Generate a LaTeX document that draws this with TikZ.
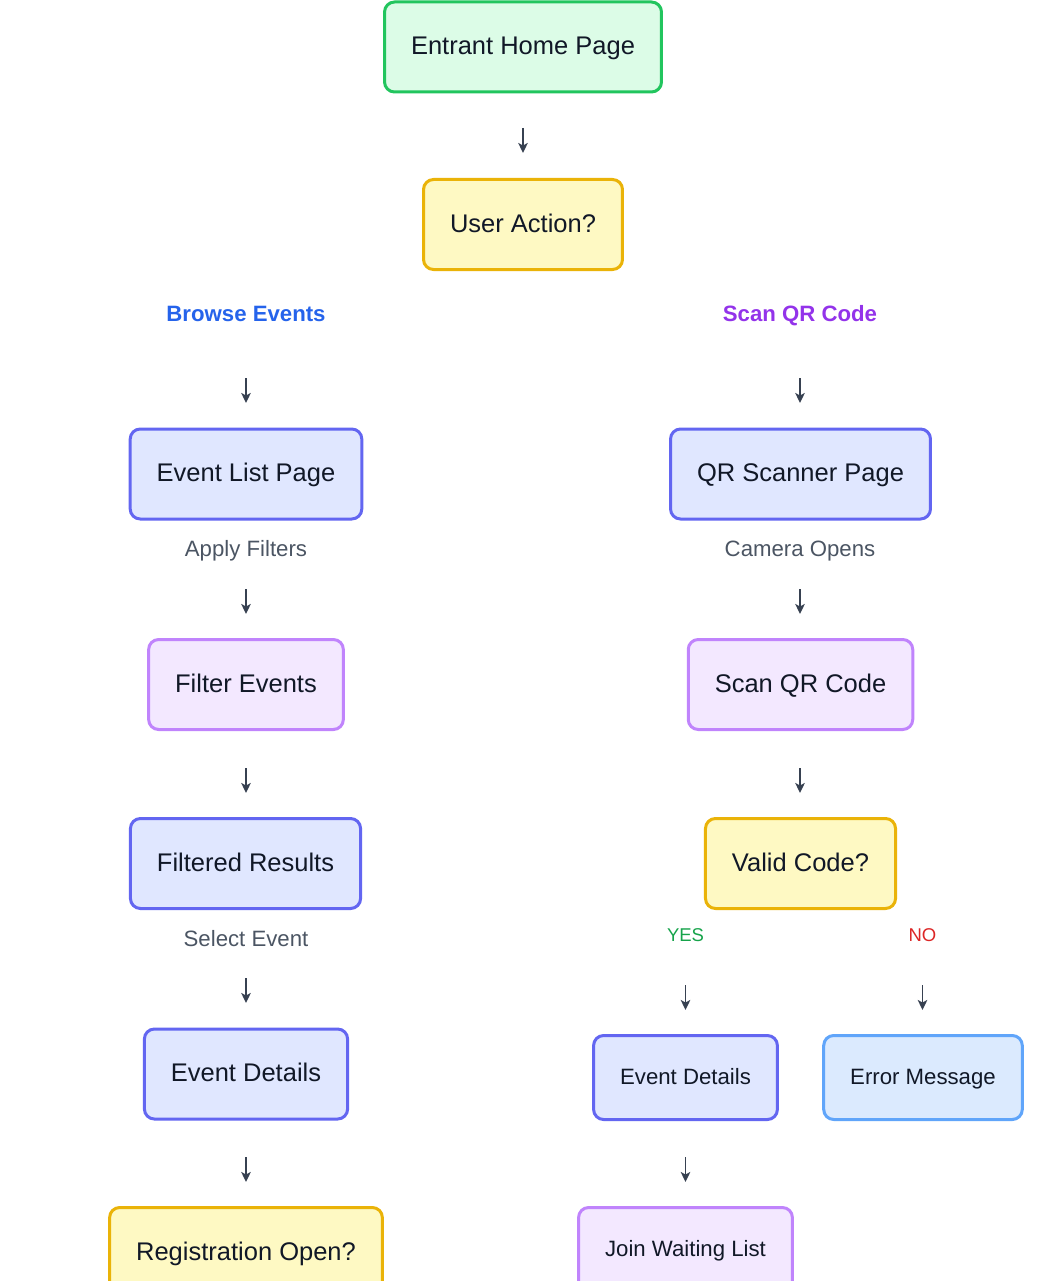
\documentclass[tikz,border=0pt]{standalone}
\usepackage{fontspec}
\setmainfont{Liberation Sans}
\usetikzlibrary{arrows.meta}
\definecolor{inkdark}{HTML}{111827}
\definecolor{arrowgray}{HTML}{374151}
\definecolor{notegray}{HTML}{4B5563}
\definecolor{startline}{HTML}{22C55E}
\definecolor{startfill}{HTML}{DCFCE7}
\definecolor{decline}{HTML}{EAB308}
\definecolor{decfill}{HTML}{FEF9C3}
\definecolor{screenline}{HTML}{6366F1}
\definecolor{screenfill}{HTML}{E0E7FF}
\definecolor{taskline}{HTML}{C084FC}
\definecolor{taskfill}{HTML}{F3E8FF}
\definecolor{alertline}{HTML}{60A5FA}
\definecolor{alertfill}{HTML}{DBEAFE}
\definecolor{browseblue}{HTML}{2563EB}
\definecolor{scanpurple}{HTML}{9333EA}
\definecolor{yesgreen}{HTML}{16A34A}
\definecolor{nored}{HTML}{DC2626}
\tikzset{
	flowchart/.style={x=1pt,y=-1pt,font=\fontsize{25.5}{30}\selectfont},
	box/.style={rectangle,rounded corners=10pt,line width=3pt,inner xsep=26.5pt,
		minimum height=90pt,text height=20.5pt,text depth=5.3pt,text=inkdark},
	start/.style={box,draw=startline,fill=startfill},
	decision/.style={box,draw=decline,fill=decfill},
	screen/.style={box,draw=screenline,fill=screenfill},
	task/.style={box,draw=taskline,fill=taskfill},
	alert/.style={box,draw=alertline,fill=alertfill},
	small/.style={minimum height=84pt,text height=17.8pt,text depth=4.6pt,
		font=\fontsize{22.2}{26}\selectfont},
	label/.style={inner sep=0pt,text height=15.9pt,text depth=0pt},
	branch/.style={label,font=\bfseries\fontsize{22.2}{26}\selectfont},
	note/.style={label,text=notegray,font=\fontsize{22.2}{26}\selectfont},
	answer/.style={inner sep=0pt,text height=13.2pt,text depth=0pt,
		font=\fontsize{18.5}{22}\selectfont},
	flow/.style={-{Stealth[length=10pt,width=9.5pt,inset=2.5pt]},line width=1.8pt,draw=arrowgray}
}

\begin{document}
\begin{tikzpicture}[flowchart]
	\useasboundingbox (0,0) rectangle (1059,1281);
	
	\node[start] (home) at (523,47) {Entrant Home Page};
	\node[decision] (action) at (523,224.5) {User Action?};
	
	\node[branch,text=browseblue] (browse) at (246,313.5) {Browse Events};
	\node[branch,text=scanpurple] (scanqr) at (800,313.5) {Scan QR Code};
	
	\node[screen] (list) at (246,474) {Event List Page};
	\node[screen] (qrpage) at (800.5,474) {QR Scanner Page};
	\node[note] (apply) at (246,549) {Apply Filters};
	\node[note] (camera) at (800,549) {Camera Opens};
	
	\node[task] (filter) at (246,684.5) {Filter Events};
	\node[task] (scan) at (800.5,684.5) {Scan QR Code};
	
	\node[screen] (results) at (245.5,863.5) {Filtered Results};
	\node[decision] (valid) at (800.5,863.5) {Valid Code?};
	\node[note] (select) at (246,939) {Select Event};
	\node[answer,text=yesgreen] (yes) at (685.5,935) {YES};
	\node[answer,text=nored] (no) at (922.5,935) {NO};
	
	\node[screen] (details) at (246,1074) {Event Details};
	\node[screen,small] (qrdetails) at (685.5,1077.5) {Event Details};
	\node[alert,small] (error) at (923,1077.5) {Error Message};
	
	\node[decision] (regopen) at (246,1252.5) {Registration Open?};
	\node[task,small] (waiting) at (685.5,1249.5) {Join Waiting List};
	
	\coordinate (homeA) at (523,128);
	\coordinate (homeB) at (523,153);
	\coordinate (browseA) at (246,378);
	\coordinate (browseB) at (246,403);
	\coordinate (scanqrA) at (800,378);
	\coordinate (scanqrB) at (800,403);
	\coordinate (applyA) at (246,589);
	\coordinate (applyB) at (246,614);
	\coordinate (cameraA) at (800,589);
	\coordinate (cameraB) at (800,614);
	\coordinate (filterA) at (246,768);
	\coordinate (filterB) at (246,793);
	\coordinate (scanA) at (800,768);
	\coordinate (scanB) at (800,793);
	\coordinate (selectA) at (246,978);
	\coordinate (selectB) at (246,1003);
	\coordinate (yesA) at (685.5,985);
	\coordinate (yesB) at (685.5,1010);
	\coordinate (noA) at (922.5,985);
	\coordinate (noB) at (922.5,1010);
	\coordinate (detailsA) at (246,1157);
	\coordinate (detailsB) at (246,1182);
	\coordinate (qrdetailsA) at (685.5,1157);
	\coordinate (qrdetailsB) at (685.5,1182);
	
	\draw[flow] (homeA) -- (homeB);
	\draw[flow] (browseA) -- (browseB);
	\draw[flow] (scanqrA) -- (scanqrB);
	\draw[flow] (applyA) -- (applyB);
	\draw[flow] (cameraA) -- (cameraB);
	\draw[flow] (filterA) -- (filterB);
	\draw[flow] (scanA) -- (scanB);
	\draw[flow] (selectA) -- (selectB);
	\draw[flow] (yesA) -- (yesB);
	\draw[flow] (noA) -- (noB);
	\draw[flow] (detailsA) -- (detailsB);
	\draw[flow] (qrdetailsA) -- (qrdetailsB);
\end{tikzpicture}
\end{document}
